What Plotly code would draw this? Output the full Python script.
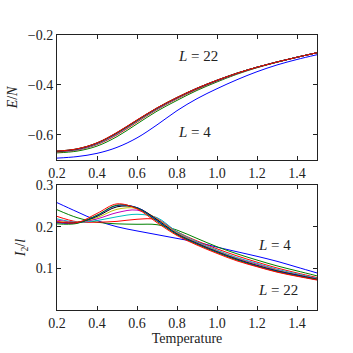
import plotly.graph_objects as go
from plotly.subplots import make_subplots

temperature = [0.2, 0.3, 0.4, 0.5, 0.6, 0.7, 0.8, 0.9, 1.0, 1.1, 1.2, 1.3, 1.4, 1.5]
sizes = [4, 6, 8, 10, 12, 14, 16, 18, 20, 22]
colors = ["#0000ff", "#008000", "#ff0000", "#00bfbf", "#bf00bf",
          "#bfbf00", "#000000", "#0000ff", "#008000", "#ff0000"]

# Energy per site E/N
energy_L4 = [-0.693, -0.687, -0.674, -0.650, -0.612, -0.560, -0.503, -0.455, -0.415, -0.379, -0.347, -0.320, -0.298, -0.279]
energy_L6 = [-0.672, -0.665, -0.645, -0.607, -0.556, -0.505, -0.462, -0.422, -0.388, -0.357, -0.331, -0.309, -0.289, -0.271]
energy_L8 = [-0.669, -0.661, -0.639, -0.600, -0.549, -0.499, -0.456, -0.418, -0.385, -0.355, -0.330, -0.308, -0.289, -0.271]
energy_L10 = [-0.668, -0.660, -0.637, -0.597, -0.546, -0.497, -0.454, -0.416, -0.384, -0.354, -0.329, -0.308, -0.289, -0.271]
energy_L12 = [-0.667, -0.659, -0.635, -0.595, -0.544, -0.495, -0.453, -0.415, -0.383, -0.354, -0.329, -0.308, -0.289, -0.271]
energy_L14 = [-0.666, -0.658, -0.634, -0.593, -0.543, -0.494, -0.452, -0.414, -0.382, -0.353, -0.329, -0.308, -0.289, -0.271]
energy_L16 = [-0.666, -0.657, -0.633, -0.592, -0.542, -0.493, -0.451, -0.414, -0.382, -0.353, -0.329, -0.308, -0.289, -0.271]
energy_L18 = [-0.665, -0.657, -0.633, -0.591, -0.541, -0.493, -0.451, -0.413, -0.381, -0.353, -0.329, -0.308, -0.289, -0.271]
energy_L20 = [-0.665, -0.656, -0.632, -0.591, -0.541, -0.492, -0.450, -0.413, -0.381, -0.353, -0.329, -0.308, -0.289, -0.271]
energy_L22 = [-0.665, -0.656, -0.632, -0.590, -0.540, -0.492, -0.450, -0.413, -0.381, -0.353, -0.329, -0.308, -0.289, -0.271]

# I2 / l
i2_L4 = [0.258, 0.236, 0.215, 0.200, 0.190, 0.181, 0.172, 0.163, 0.151, 0.140, 0.129, 0.117, 0.103, 0.089]
i2_L6 = [0.241, 0.222, 0.211, 0.207, 0.206, 0.205, 0.192, 0.172, 0.152, 0.135, 0.120, 0.106, 0.094, 0.082]
i2_L8 = [0.225, 0.212, 0.211, 0.213, 0.218, 0.217, 0.188, 0.166, 0.147, 0.130, 0.115, 0.101, 0.089, 0.078]
i2_L10 = [0.219, 0.211, 0.215, 0.224, 0.230, 0.222, 0.188, 0.164, 0.144, 0.126, 0.112, 0.098, 0.087, 0.076]
i2_L12 = [0.216, 0.211, 0.219, 0.234, 0.240, 0.220, 0.186, 0.162, 0.142, 0.124, 0.110, 0.096, 0.085, 0.075]
i2_L14 = [0.213, 0.211, 0.222, 0.242, 0.244, 0.219, 0.185, 0.161, 0.141, 0.123, 0.108, 0.095, 0.084, 0.074]
i2_L16 = [0.211, 0.210, 0.225, 0.248, 0.246, 0.217, 0.183, 0.160, 0.140, 0.122, 0.107, 0.094, 0.084, 0.074]
i2_L18 = [0.210, 0.209, 0.227, 0.251, 0.246, 0.215, 0.182, 0.159, 0.139, 0.121, 0.106, 0.093, 0.083, 0.073]
i2_L20 = [0.207, 0.208, 0.228, 0.252, 0.245, 0.213, 0.181, 0.158, 0.138, 0.120, 0.105, 0.092, 0.082, 0.073]
i2_L22 = [0.212, 0.210, 0.232, 0.255, 0.243, 0.210, 0.179, 0.156, 0.136, 0.118, 0.104, 0.091, 0.081, 0.072]

energy_series = [energy_L4, energy_L6, energy_L8, energy_L10, energy_L12,
                 energy_L14, energy_L16, energy_L18, energy_L20, energy_L22]
i2_series = [i2_L4, i2_L6, i2_L8, i2_L10, i2_L12,
             i2_L14, i2_L16, i2_L18, i2_L20, i2_L22]

x_ticks = [0.2, 0.4, 0.6, 0.8, 1.0, 1.2, 1.4]
energy_ticks = [-0.6, -0.4, -0.2]
i2_ticks = [0.1, 0.2, 0.3]

fig = make_subplots(rows=2, cols=1, vertical_spacing=0.092)

for L, c, e, i2 in zip(sizes, colors, energy_series, i2_series):
    fig.add_trace(go.Scatter(x=temperature, y=e, mode="lines", name=f"L={L}",
                             line=dict(color=c, width=1, shape="spline", smoothing=1.0)),
                  row=1, col=1)
    fig.add_trace(go.Scatter(x=temperature, y=i2, mode="lines", name=f"L={L}",
                             line=dict(color=c, width=1, shape="spline", smoothing=1.0)),
                  row=2, col=1)

font_family = "Liberation Serif, DejaVu Serif, serif"
axis_common = dict(showline=True, linecolor="#222", linewidth=1, mirror="allticks",
                   ticks="inside", ticklen=4, tickcolor="#222", tickwidth=1,
                   showgrid=False, zeroline=False,
                   tickfont=dict(family=font_family, size=14, color="#222"))

fig.update_xaxes(range=[0.2, 1.5], tickvals=x_ticks, ticktext=[f"{v:.1f}" for v in x_ticks],
                 **axis_common)
fig.update_yaxes(range=[-0.7, -0.2], tickvals=energy_ticks,
                 ticktext=["\u22120.6", "\u22120.4", "\u22120.2"], row=1, col=1, **axis_common)
fig.update_yaxes(range=[0.0, 0.3], tickvals=i2_ticks,
                 ticktext=[f"{v:.1f}" for v in i2_ticks], row=2, col=1, **axis_common)

title_font = dict(family=font_family, size=14, color="#222")
fig.update_yaxes(title=dict(text="<i>E</i>/<i>N</i>", font=title_font, standoff=6), row=1, col=1)
fig.update_yaxes(title=dict(text="<i>I</i><sub>2</sub>/<i>l</i>", font=title_font, standoff=6), row=2, col=1)
fig.update_xaxes(title=dict(text="Temperature", font=title_font, standoff=0), row=2, col=1)

ann_font = dict(family=font_family, size=15, color="#222")
fig.add_annotation(x=0.904, y=-0.285, xref="x", yref="y", text="<i>L</i> = 22",
                   showarrow=False, font=ann_font)
fig.add_annotation(x=0.887, y=-0.587, xref="x", yref="y", text="<i>L</i> = 4",
                   showarrow=False, font=ann_font)
fig.add_annotation(x=1.288, y=0.156, xref="x2", yref="y2", text="<i>L</i> = 4",
                   showarrow=False, font=ann_font)
fig.add_annotation(x=1.305, y=0.048, xref="x2", yref="y2", text="<i>L</i> = 22",
                   showarrow=False, font=ann_font)

fig.update_layout(width=353, height=353, showlegend=False,
                  plot_bgcolor="white", paper_bgcolor="white",
                  margin=dict(l=53, r=36, t=35, b=36))

fig.write_html("out.html", config={"displayModeBar": False},
               post_script="document.body.style.margin='0';document.body.style.overflow='hidden';")
